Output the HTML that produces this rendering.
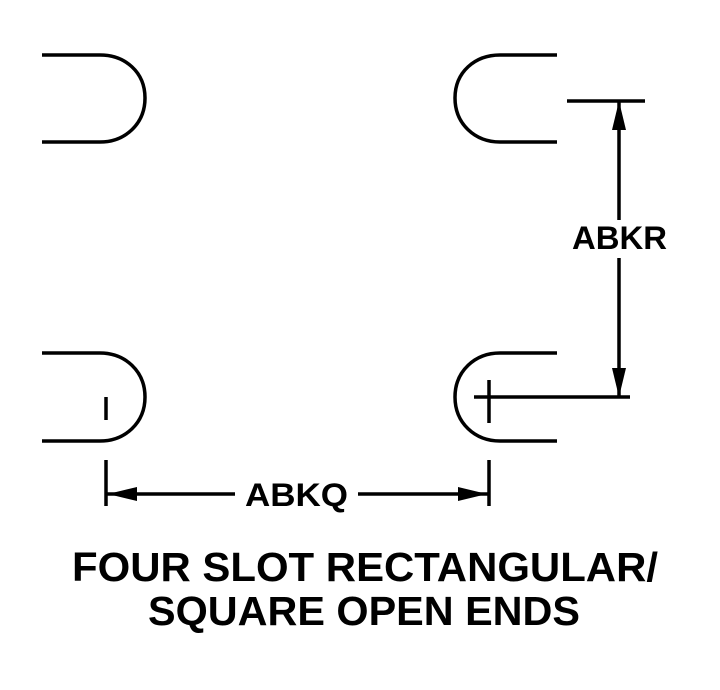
<!DOCTYPE html>
<html><head><style>body{margin:0;background:#fff}svg{display:block}</style></head><body>
<svg width="720" height="690" viewBox="0 0 720 690" xmlns="http://www.w3.org/2000/svg">
<g fill="none" stroke="#000" stroke-width="3.5">
<path d="M42 55 H100 C125 55 145 72 145 98 C145 124 125 142 100 142 H42"/>
<path d="M557 55 H500 C475 55 455 72 455 98 C455 124 475 142 500 142 H557"/>
<path d="M42 353 H100 C125 353 145 371 145 397 C145 423 125 441 100 441 H42"/>
<path d="M557 353 H500 C475 353 455 371 455 397 C455 423 475 441 500 441 H557"/>
<path d="M106 397 V420 M474 397 H630 M489 380 V423 M567 101 H645 M106 460 V506 M489 460 V506 M106 494 H235 M358 494 H489 M619 101 V220 M619 258 V397"/>
</g>
<g fill="#000">
<polygon points="619,101 612,130 626,130"/>
<polygon points="619,397 612,368 626,368"/>
<polygon points="108,494 137,487 137,501"/>
<polygon points="487,494 458,487 458,501"/>
</g>
<g font-family="Liberation Sans, sans-serif" font-weight="bold" fill="#000">
<text x="572" y="249" font-size="32" textLength="95" lengthAdjust="spacingAndGlyphs">ABKR</text>
<text x="245" y="506" font-size="32" textLength="103" lengthAdjust="spacingAndGlyphs">ABKQ</text>
<text x="72" y="581" font-size="41" textLength="586" lengthAdjust="spacingAndGlyphs">FOUR SLOT RECTANGULAR/</text>
<text x="148" y="625" font-size="41" textLength="432" lengthAdjust="spacingAndGlyphs">SQUARE OPEN ENDS</text>
</g>
</svg>
</body></html>
